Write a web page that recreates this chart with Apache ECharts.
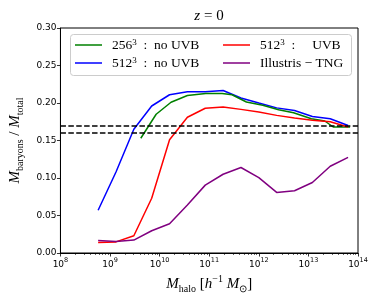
<!DOCTYPE html>
<html><head><meta charset="utf-8">
<script src="https://cdn.jsdelivr.net/npm/echarts@6/dist/echarts.min.js"></script>
<style>html,body{margin:0;padding:0;background:#fff}#c{width:374px;height:299px}</style>
</head><body><div id="c"></div>
<script>
// log10 of halo mass (h^-1 Msun) for the shared binning
const logMassGrid = [8.76, 9.12, 9.48, 9.84, 10.20, 10.56, 10.92, 11.28, 11.64, 12.00, 12.36, 12.72, 13.08, 13.44, 13.80];
// 256^3 run uses its own bins
const logMass256 = [9.62, 9.93, 10.23, 10.56, 10.93, 11.26, 11.46, 11.75, 12.08, 12.40, 12.70, 13.06, 13.33, 13.50, 13.84];

const frac256noUVB = [0.153, 0.185, 0.201, 0.210, 0.2128, 0.2128, 0.211, 0.2013, 0.197, 0.191, 0.187, 0.179, 0.176, 0.168, 0.168];
const frac512noUVB = [0.057, 0.108, 0.165, 0.196, 0.211, 0.215, 0.215, 0.2166, 0.2066, 0.200, 0.1935, 0.190, 0.182, 0.179, 0.170];
const frac512UVB   = [0.014, 0.0148, 0.023, 0.073, 0.151, 0.181, 0.193, 0.1948, 0.1915, 0.188, 0.1835, 0.180, 0.177, 0.175, 0.168];
const fracTNG      = [0.0168, 0.0152, 0.0172, 0.0297, 0.039, 0.064, 0.0905, 0.105, 0.114, 0.1005, 0.0808, 0.083, 0.094, 0.1157, 0.1275];

const cosmicFractions = [0.1675, 0.1575];
const xDecades = [8, 9, 10, 11, 12, 13, 14];
const yTicks = [0.00, 0.05, 0.10, 0.15, 0.20, 0.25, 0.30];

const seriesNames = ['256^3 : no UVB', '512^3 : no UVB', '512^3 : UVB', 'Illustris - TNG'];
const seriesColors = ['#008000', '#0000ff', '#ff0000', '#800080'];

function pairs(logs, ys) { return logs.map((l, i) => [Math.pow(10, l), ys[i]]); }

const minorTickLogs = [];
for (let d = 8; d < 14; d++) for (let k = 2; k <= 9; k++) minorTickLogs.push(d + Math.log10(k));

const serif = 'Liberation Serif';
const mathRich = {
  i: {fontFamily: serif, fontStyle: 'italic', fontSize: 15, lineHeight: 20, verticalAlign: 'middle', color: '#000'},
  r: {fontFamily: serif, fontSize: 15, lineHeight: 20, verticalAlign: 'middle', color: '#000'},
  s: {fontFamily: serif, fontSize: 10, lineHeight: 11, verticalAlign: 'bottom', color: '#000'},
  p: {fontFamily: serif, fontSize: 10, lineHeight: 11, verticalAlign: 'top', color: '#000'}
};

const legendRich = {
  t: {fontFamily: serif, fontSize: 13.5, lineHeight: 14, color: '#000', padding: [0,0,0,5]},
  n: {fontFamily: serif, fontSize: 13.5, lineHeight: 14, color: '#000'},
  p: {fontFamily: serif, fontSize: 9, lineHeight: 9, verticalAlign: 'top', color: '#000'}
};
function legendFmt(name) {
  if (name === seriesNames[0]) return '{t|256}{p|3}{n|  :  no UVB}';
  if (name === seriesNames[1]) return '{t|512}{p|3}{n|  :  no UVB}';
  if (name === seriesNames[2]) return '{t|512}{p|3}{n|  :     UVB}';
  return '{t|Illustris \u2212 TNG}';
}

const chart = echarts.init(document.getElementById('c'), null, {renderer: 'canvas'});
chart.setOption({
  animation: false,
  backgroundColor: '#fff',
  title: {
    text: '{i|z}{r| = 0}', left: 204, top: 4, textAlign: 'center',
    textStyle: {fontWeight: 'normal', rich: {
      i: {fontFamily: serif, fontStyle: 'italic', fontWeight: 'normal', fontSize: 15, color: '#000'},
      r: {fontFamily: serif, fontWeight: 'normal', fontSize: 15, color: '#000'}
    }}
  },
  grid: {left: 51, right: 16, top: 28, bottom: 43, show: true, borderColor: '#000', borderWidth: 1, backgroundColor: '#fff'},
  graphic: [{
    type: 'rect', shape: {x: 70.5, y: 34.5, width: 281, height: 41, r: 3},
    style: {fill: 'rgba(255,255,255,0.8)', stroke: '#cccccc', lineWidth: 1}, z: 50
  }],
  legend: [
    {data: [seriesNames[0], seriesNames[1]], orient: 'vertical', left: 75, top: 38, padding: 0,
     itemWidth: 27, itemHeight: 1.5, itemGap: 4, icon: 'rect', formatter: legendFmt,
     textStyle: {rich: legendRich}, z: 60},
    {data: [seriesNames[2], seriesNames[3]], orient: 'vertical', left: 223, top: 38, padding: 0,
     itemWidth: 27, itemHeight: 1.5, itemGap: 4, icon: 'rect', formatter: legendFmt,
     textStyle: {rich: legendRich}, z: 60}
  ],
  xAxis: [{
    type: 'log', logBase: 10, min: Math.pow(10, xDecades[0]), max: Math.pow(10, xDecades[xDecades.length-1]), interval: 1,
    name: '{i|M}{s|halo}{r| [}{i|h}{p|\u22121}{r| }{i|M}{s|\u2299}{r|]}',
    nameLocation: 'middle', nameGap: 21,
    nameTextStyle: {rich: mathRich},
    axisLine: {lineStyle: {color: '#000', width: 1}},
    axisTick: {inside: false, length: 3.5, lineStyle: {color: '#000', width: 0.8}},
    axisLabel: {
      margin: 4,
      formatter: v => '{b|10}{s|' + Math.round(Math.log10(v)) + '}',
      rich: {
        b: {fontFamily: 'DejaVu Sans', fontSize: 9, color: '#000', lineHeight: 12, verticalAlign: 'bottom'},
        s: {fontFamily: 'DejaVu Sans', fontSize: 6.5, color: '#000', lineHeight: 12, verticalAlign: 'top'}
      }
    },
    splitLine: {show: false}
  }, {
    type: 'value', min: xDecades[0], max: xDecades[xDecades.length-1], position: 'bottom',
    axisLine: {show: false}, axisLabel: {show: false}, splitLine: {show: false},
    axisTick: {show: true, length: 2, customValues: minorTickLogs, lineStyle: {color: '#000', width: 0.6}}
  }],
  yAxis: {
    type: 'value', min: yTicks[0], max: yTicks[yTicks.length-1], interval: 0.05,
    name: '{i|M}{s|baryons}{r| / }{i|M}{s|total}',
    nameLocation: 'middle', nameGap: 30, nameRotate: 90,
    nameTextStyle: {rich: mathRich},
    axisLine: {lineStyle: {color: '#000', width: 1}},
    axisTick: {inside: false, length: 3.5, lineStyle: {color: '#000', width: 0.8}},
    axisLabel: {margin: 4, fontFamily: 'DejaVu Sans', fontSize: 9, color: '#000', formatter: v => v.toFixed(2)},
    splitLine: {show: false}
  },
  series: [
    {name: seriesNames[0], type: 'line', data: pairs(logMass256, frac256noUVB), showSymbol: false, symbol: 'none',
     lineStyle: {color: seriesColors[0], width: 1.5}, itemStyle: {color: seriesColors[0]}, z: 3},
    {name: seriesNames[1], type: 'line', data: pairs(logMassGrid, frac512noUVB), showSymbol: false, symbol: 'none',
     lineStyle: {color: seriesColors[1], width: 1.5}, itemStyle: {color: seriesColors[1]}, z: 2},
    {name: seriesNames[2], type: 'line', data: pairs(logMassGrid, frac512UVB), showSymbol: false, symbol: 'none',
     lineStyle: {color: seriesColors[2], width: 1.5}, itemStyle: {color: seriesColors[2]}, z: 4},
    {name: seriesNames[3], type: 'line', data: pairs(logMassGrid, fracTNG), showSymbol: false, symbol: 'none',
     lineStyle: {color: seriesColors[3], width: 1.5}, itemStyle: {color: seriesColors[3]}, z: 5,
     markLine: {silent: true, symbol: ['none', 'none'], label: {show: false},
       lineStyle: {color: '#000', type: [5.5, 2.4], width: 1.5},
       data: cosmicFractions.map(v => ({yAxis: v}))}}
  ]
});
</script></body></html>
